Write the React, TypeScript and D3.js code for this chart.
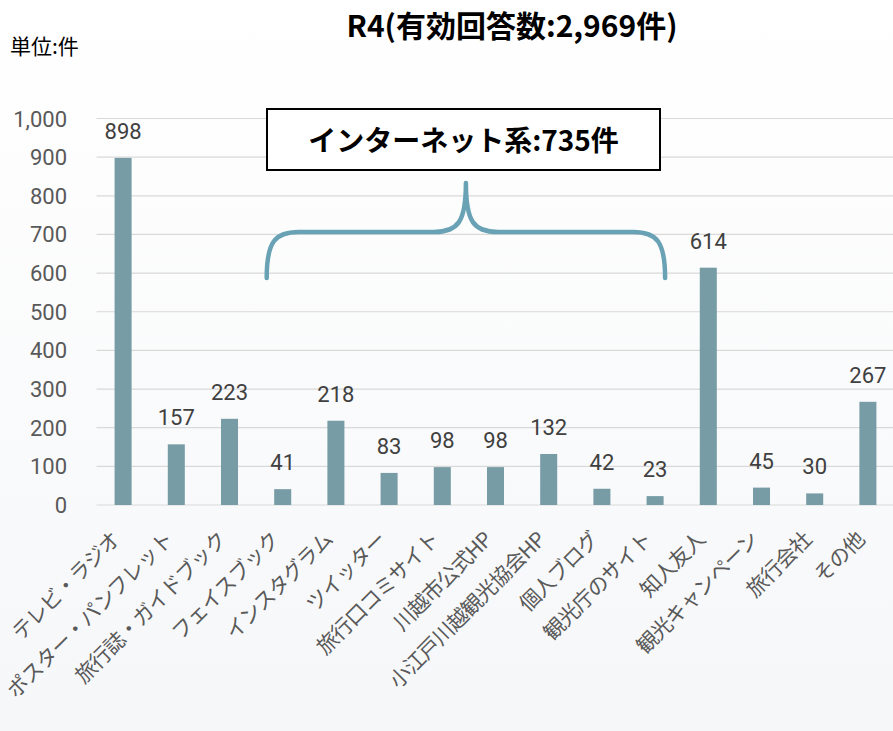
import React from 'react';
import * as d3 from 'd3';

const categories = [
  'テレビ・ラジオ', 'ポスター・パンフレット', '旅行誌・ガイドブック', 'フェイスブック',
  'インスタグラム', 'ツイッター', '旅行口コミサイト', '川越市公式HP', '小江戸川越観光協会HP',
  '個人ブログ', '観光庁のサイト', '知人友人', '観光キャンペーン', '旅行会社', 'その他',
];
const counts = [898, 157, 223, 41, 218, 83, 98, 98, 132, 42, 23, 614, 45, 30, 267];
const yTicks = [0, 100, 200, 300, 400, 500, 600, 700, 800, 900, 1000];
const internetGroup = ['フェイスブック', '観光庁のサイト'];

const W = 893;
const H = 731;
const JP = '"Noto Sans CJK JP", "Noto Sans", sans-serif';
const NUM = 'Roboto, "Noto Sans", sans-serif';

export default function App() {
  const x = d3.scaleBand().domain(categories).range([96.5, 894.5]).paddingInner(0.68).paddingOuter(0.34);
  const y = d3.scaleLinear().domain([0, 1000]).range([505, 118.5]);
  const fmt = d3.format(',');
  const bw = x.bandwidth();

  // brace over the internet categories
  const bl = x(internetGroup[0])! + bw / 2 - 16;
  const br = x(internetGroup[1])! + bw / 2 + 10;
  const bm = (bl + br) / 2;
  const yb = 278, yh = 232, yt = 183;
  const p = d3.path();
  p.moveTo(bl, yb);
  p.bezierCurveTo(bl, yh + 10, bl + 8, yh, bl + 32, yh);
  p.lineTo(bm - 32, yh);
  p.bezierCurveTo(bm - 8, yh, bm, yh - 10, bm, yt);
  p.moveTo(bm, yt);
  p.bezierCurveTo(bm, yh - 10, bm + 8, yh, bm + 32, yh);
  p.lineTo(br - 32, yh);
  p.bezierCurveTo(br - 8, yh, br, yh + 10, br, yb);

  return (
    <svg width={W} height={H} style={{ position: 'absolute', left: 0, top: 0 }}>
      <defs>
        <linearGradient id="bg" x1="0" y1="0" x2="0" y2="1">
          <stop offset="0" stopColor="#ffffff" />
          <stop offset="1" stopColor="#f6f7f9" />
        </linearGradient>
      </defs>
      <rect width={W} height={H} fill="url(#bg)" />

      <text x={512} y={37} textAnchor="middle" fontFamily={JP} fontWeight="bold" fontSize={30} fill="#000">
        R4(有効回答数:2,969件)
      </text>
      <text x={10} y={54} fontFamily={JP} fontSize={21} fill="#000">単位:件</text>

      {yTicks.map(t => (
        <g key={t}>
          <line x1={96.5} x2={W} y1={y(t)} y2={y(t)} stroke="#d9d9d9" strokeWidth={1.2} />
          <text x={67} y={y(t) + 8} textAnchor="end" fontFamily={NUM} fontSize={22} fill="#595959">
            {fmt(t)}
          </text>
        </g>
      ))}

      {categories.map((c, i) => (
        <g key={c}>
          <rect x={x(c)} y={y(counts[i])} width={bw} height={y(0) - y(counts[i])} fill="#789ca6" />
          <text x={x(c)! + bw / 2} y={y(counts[i]) - 19} textAnchor="middle" fontFamily={NUM} fontSize={22} fill="#404040">
            {counts[i]}
          </text>
          <text
            transform={`translate(${x(c)! + bw / 2 - 2},${541}) rotate(-45)`}
            textAnchor="end"
            fontFamily={JP}
            fontSize={21}
            letterSpacing={-0.7}
            fill="#595959"
          >
            {c}
          </text>
        </g>
      ))}

      <rect x={267} y={109} width={393} height={61} fill="#fff" stroke="#000" strokeWidth={2} />
      <text x={463.5} y={151} textAnchor="middle" fontFamily={JP} fontWeight="bold" fontSize={28} fill="#000">
        インターネット系:735件
      </text>

      <path d={p.toString()} fill="none" stroke="#69a2b4" strokeWidth={4.5} strokeLinecap="round" />
    </svg>
  );
}
